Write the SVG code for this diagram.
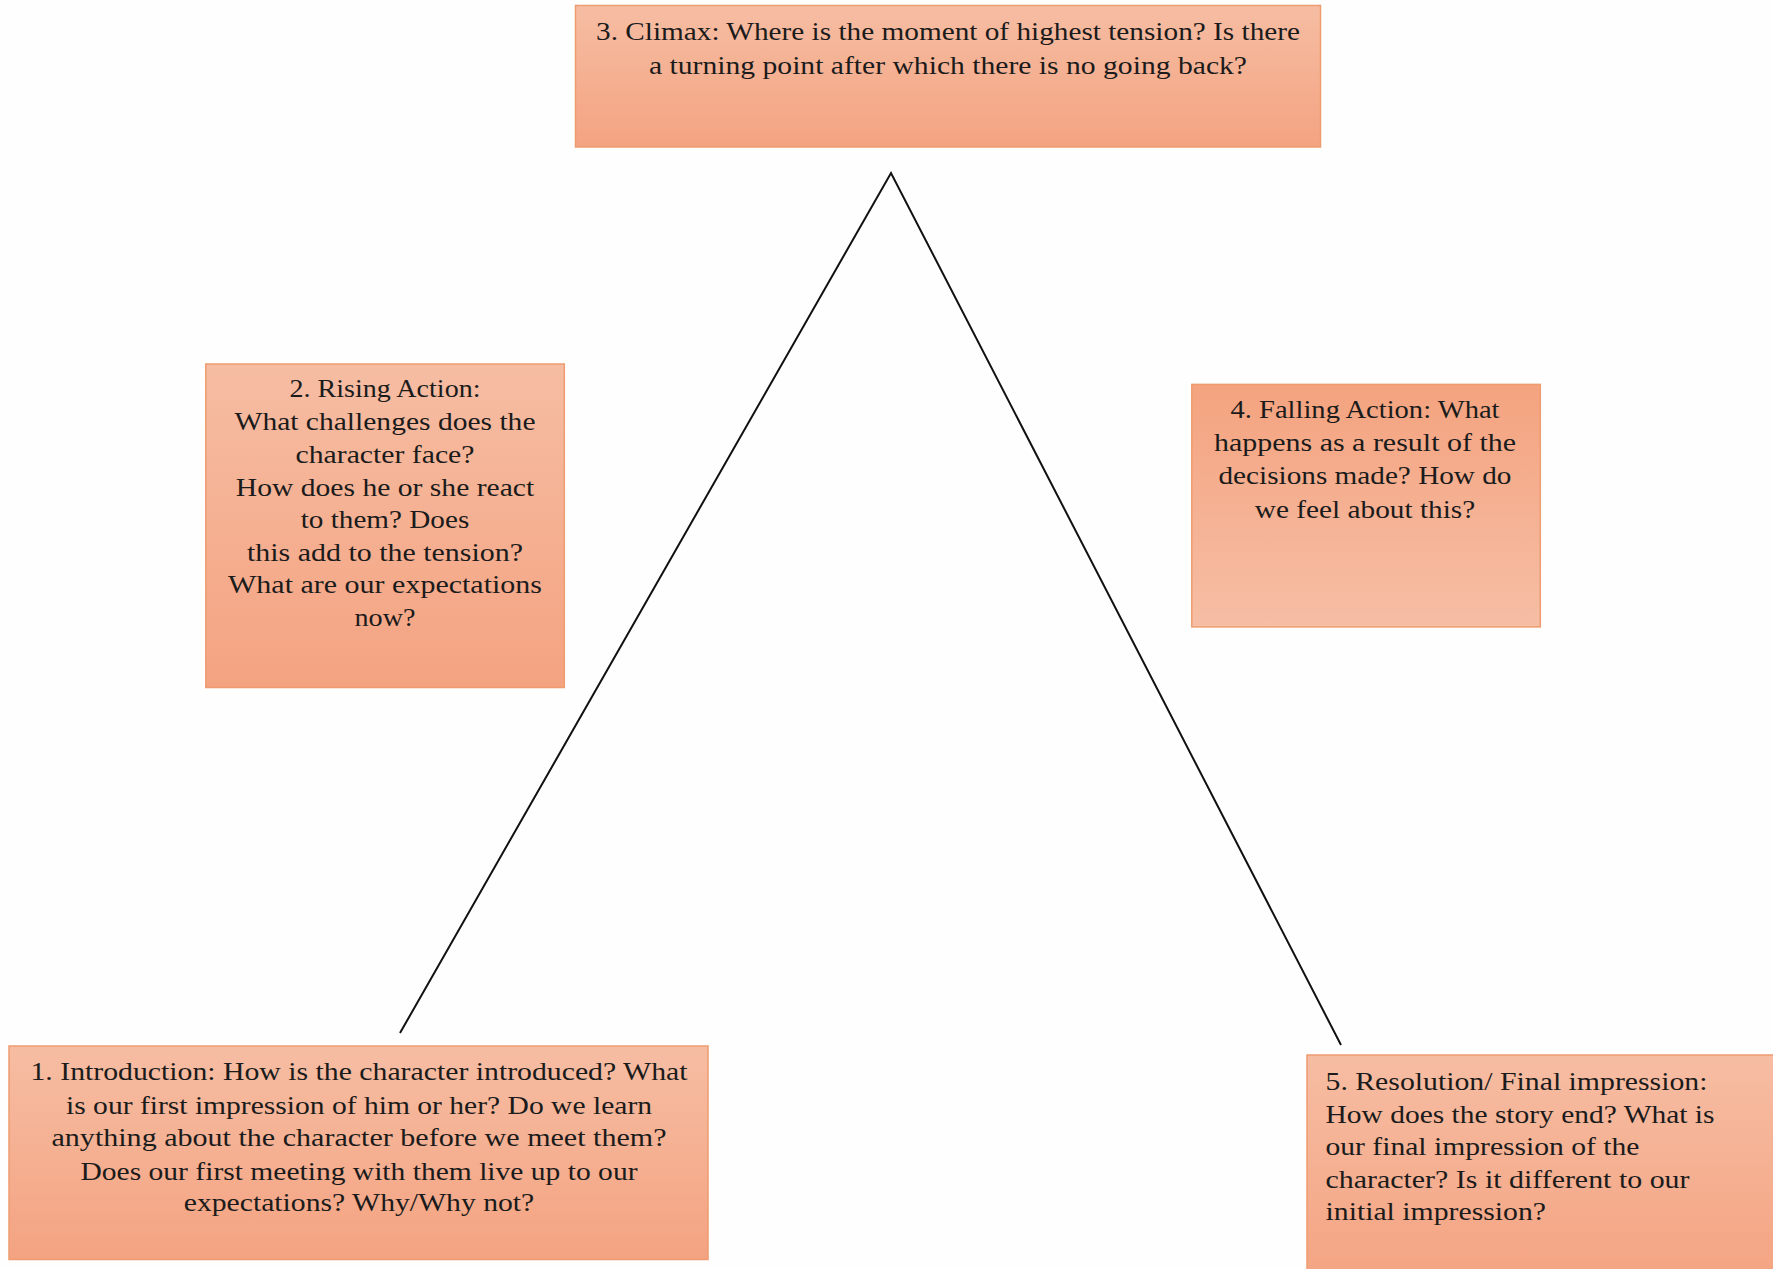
<svg xmlns="http://www.w3.org/2000/svg" width="1773" height="1269" viewBox="0 0 1773 1269">
<defs>
<linearGradient id="gDown" x1="0" y1="0" x2="0" y2="1">
<stop offset="0" stop-color="#F6BDA3"/>
<stop offset="1" stop-color="#F4A381"/>
</linearGradient>
<linearGradient id="gUp" x1="0" y1="0" x2="0" y2="1">
<stop offset="0" stop-color="#F4A37F"/>
<stop offset="1" stop-color="#F6BEA5"/>
</linearGradient>
<style>
.box{stroke:#EE9C6F;stroke-width:1.5}
.t{font-family:"Liberation Serif","DejaVu Serif",serif;font-size:26px;fill:#1b1b1b}
.c{text-anchor:middle}
.line{fill:none;stroke:#111;stroke-width:2}
</style>
</defs>
<rect width="1773" height="1269" fill="#fefefe"/>
<g id="connectors">
<polyline class="line" points="400,1033 891,173 1341,1045"/>
</g>
<g id="node3">
<rect class="box" x="575.5" y="5.5" width="745" height="141.5" fill="url(#gDown)"/>
<text class="t c" x="948" y="39.5" textLength="704" lengthAdjust="spacingAndGlyphs">3. Climax: Where is the moment of highest tension? Is there</text>
<text class="t c" x="948" y="73.5" textLength="598" lengthAdjust="spacingAndGlyphs">a turning point after which there is no going back?</text>
</g>
<g id="node2">
<rect class="box" x="205.8" y="364" width="358.5" height="323.5" fill="url(#gDown)"/>
<text class="t c" x="385" y="397.3" textLength="191" lengthAdjust="spacingAndGlyphs">2. Rising Action:</text>
<text class="t c" x="385" y="430" textLength="301" lengthAdjust="spacingAndGlyphs">What challenges does the</text>
<text class="t c" x="385" y="462.5" textLength="179" lengthAdjust="spacingAndGlyphs">character face?</text>
<text class="t c" x="385" y="495.7" textLength="298.5" lengthAdjust="spacingAndGlyphs">How does he or she react</text>
<text class="t c" x="385" y="527.5" textLength="168.5" lengthAdjust="spacingAndGlyphs">to them? Does</text>
<text class="t c" x="385" y="560.5" textLength="276" lengthAdjust="spacingAndGlyphs">this add to the tension?</text>
<text class="t c" x="385" y="593.3" textLength="314" lengthAdjust="spacingAndGlyphs">What are our expectations</text>
<text class="t c" x="385" y="626.2" textLength="61" lengthAdjust="spacingAndGlyphs">now?</text>
</g>
<g id="node4">
<rect class="box" x="1191.8" y="384.4" width="348.5" height="242.5" fill="url(#gUp)"/>
<text class="t c" x="1365" y="418.3" textLength="269" lengthAdjust="spacingAndGlyphs">4. Falling Action: What</text>
<text class="t c" x="1365" y="451.3" textLength="302" lengthAdjust="spacingAndGlyphs">happens as a result of the</text>
<text class="t c" x="1365" y="484.3" textLength="293" lengthAdjust="spacingAndGlyphs">decisions made? How do</text>
<text class="t c" x="1365" y="517.8" textLength="220.5" lengthAdjust="spacingAndGlyphs">we feel about this?</text>
</g>
<g id="node1">
<rect class="box" x="9" y="1046" width="699" height="213.5" fill="url(#gDown)"/>
<text class="t c" x="359" y="1079.5" textLength="657" lengthAdjust="spacingAndGlyphs">1. Introduction: How is the character introduced? What</text>
<text class="t c" x="359" y="1113.5" textLength="586" lengthAdjust="spacingAndGlyphs">is our first impression of him or her? Do we learn</text>
<text class="t c" x="359" y="1145.8" textLength="615" lengthAdjust="spacingAndGlyphs">anything about the character before we meet them?</text>
<text class="t c" x="359" y="1179.5" textLength="557" lengthAdjust="spacingAndGlyphs">Does our first meeting with them live up to our</text>
<text class="t c" x="359" y="1211.3" textLength="350.5" lengthAdjust="spacingAndGlyphs">expectations? Why/Why not?</text>
</g>
<g id="node5">
<rect class="box" x="1307" y="1055" width="480" height="230" fill="url(#gDown)"/>
<text class="t" x="1325.5" y="1089.5" textLength="382" lengthAdjust="spacingAndGlyphs">5. Resolution/ Final impression:</text>
<text class="t" x="1325.5" y="1122.5" textLength="389" lengthAdjust="spacingAndGlyphs">How does the story end? What is</text>
<text class="t" x="1325.5" y="1155" textLength="314" lengthAdjust="spacingAndGlyphs">our final impression of the</text>
<text class="t" x="1325.5" y="1188" textLength="364" lengthAdjust="spacingAndGlyphs">character? Is it different to our</text>
<text class="t" x="1325.5" y="1220" textLength="220.5" lengthAdjust="spacingAndGlyphs">initial impression?</text>
</g>
</svg>
